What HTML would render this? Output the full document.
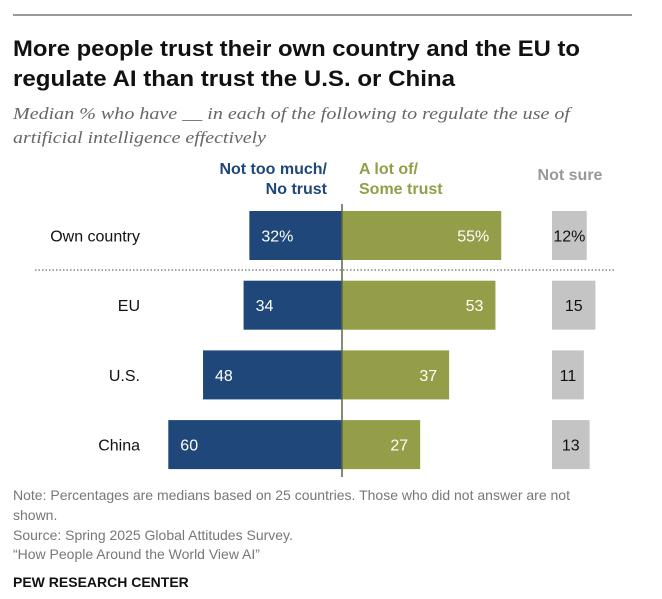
<!DOCTYPE html>
<html><head><meta charset="utf-8"><style>
html,body{margin:0;padding:0;background:#fff;}
svg{display:block;font-family:"Liberation Sans Narrow","Liberation Sans",sans-serif;}
</style></head><body>
<svg id="chart" width="662" height="599" viewBox="0 0 662 599" xmlns="http://www.w3.org/2000/svg">
<line x1="13" y1="15" x2="632" y2="15" stroke="#333" stroke-width="1"/>
<text x="13" y="56" font-size="22" font-weight="bold" fill="#111" textLength="567" lengthAdjust="spacingAndGlyphs">More people trust their own country and the EU to</text>
<text x="13" y="86" font-size="22" font-weight="bold" fill="#111" textLength="442" lengthAdjust="spacingAndGlyphs">regulate AI than trust the U.S. or China</text>
<text x="13" y="119" font-size="17" font-style="italic" fill="#666" font-family="Liberation Serif,serif" textLength="557" lengthAdjust="spacingAndGlyphs">Median % who have __ in each of the following to regulate the use of</text>
<text x="13" y="143" font-size="17" font-style="italic" fill="#666" font-family="Liberation Serif,serif" textLength="253" lengthAdjust="spacingAndGlyphs">artificial intelligence effectively</text>
<g>
<text x="327" y="174" font-size="16" font-weight="bold" fill="#1f477a" text-anchor="end">Not too much/</text>
<text x="327" y="194" font-size="16" font-weight="bold" fill="#1f477a" text-anchor="end">No trust</text>
<text x="359" y="174" font-size="16" font-weight="bold" fill="#949d48">A lot of/</text>
<text x="359" y="194" font-size="16" font-weight="bold" fill="#949d48">Some trust</text>
<text x="570" y="180" font-size="16" font-weight="bold" fill="#999" text-anchor="middle">Not sure</text>
</g>
<line x1="35" y1="270" x2="615" y2="270" stroke="#444" stroke-width="1" stroke-dasharray="1.5,2"/>
<g id="bars"></g>
<line x1="342" y1="204" x2="342" y2="477" stroke="#5d6640" stroke-width="1.5"/>
<g fill="#777" font-size="14">
<text x="13" y="500">Note: Percentages are medians based on 25 countries. Those who did not answer are not</text>
<text x="13" y="520">shown.</text>
<text x="13" y="540">Source: Spring 2025 Global Attitudes Survey.</text>
<text x="13" y="559">“How People Around the World View AI”</text>
</g>
<text x="13" y="587" font-size="14" font-weight="bold" fill="#111">PEW RESEARCH CENTER</text>
</svg>
<script>
const categories = ["Own country", "EU", "U.S.", "China"];
const noTrust = [32, 34, 48, 60];
const trust = [55, 53, 37, 27];
const notSure = [12, 15, 11, 13];
const NS = "http://www.w3.org/2000/svg";
const cx = 342, k = 2.895, nsX = 552, rowTop0 = 211, rowStep = 69.7, barH = 49;
const xs = v => v * k;
const g = document.getElementById('bars');
function mk(tag, attrs, txt){const e=document.createElementNS(NS,tag);for(const a in attrs)e.setAttribute(a,attrs[a]);if(txt!=null)e.textContent=txt;g.appendChild(e);return e;}
categories.forEach((c,i)=>{
  const y = rowTop0 + i*rowStep, mid = y + barH/2 + 6;
  const suf = i===0 ? "%" : "";
  const lab = mk('text',{x:140,y:mid,'font-size':16,fill:'#111','text-anchor':'end'},c);
  
  
  const b1 = mk('rect',{x:cx-xs(noTrust[i]),y:y,width:xs(noTrust[i]),height:barH,fill:'#1f477a'});
  
  
  const t1 = mk('text',{x:cx-xs(noTrust[i])+12,y:mid,'font-size':16,fill:'#fff'},noTrust[i]+suf);
  
  
  const b2 = mk('rect',{x:cx,y:y,width:xs(trust[i]),height:barH,fill:'#949d48'});
  
  
  const t2 = mk('text',{x:cx+xs(trust[i])-12,y:mid,'font-size':16,fill:'#fff','text-anchor':'end'},trust[i]+suf);
  
  
  const b3 = mk('rect',{x:nsX,y:y,width:xs(notSure[i]),height:barH,fill:'#c4c4c4'});
  
  
  const t3 = mk('text',{x:nsX+xs(notSure[i])/2,y:mid,'font-size':16,fill:'#111','text-anchor':'middle'},notSure[i]+suf);
  
  
});
</script>
</body></html>
